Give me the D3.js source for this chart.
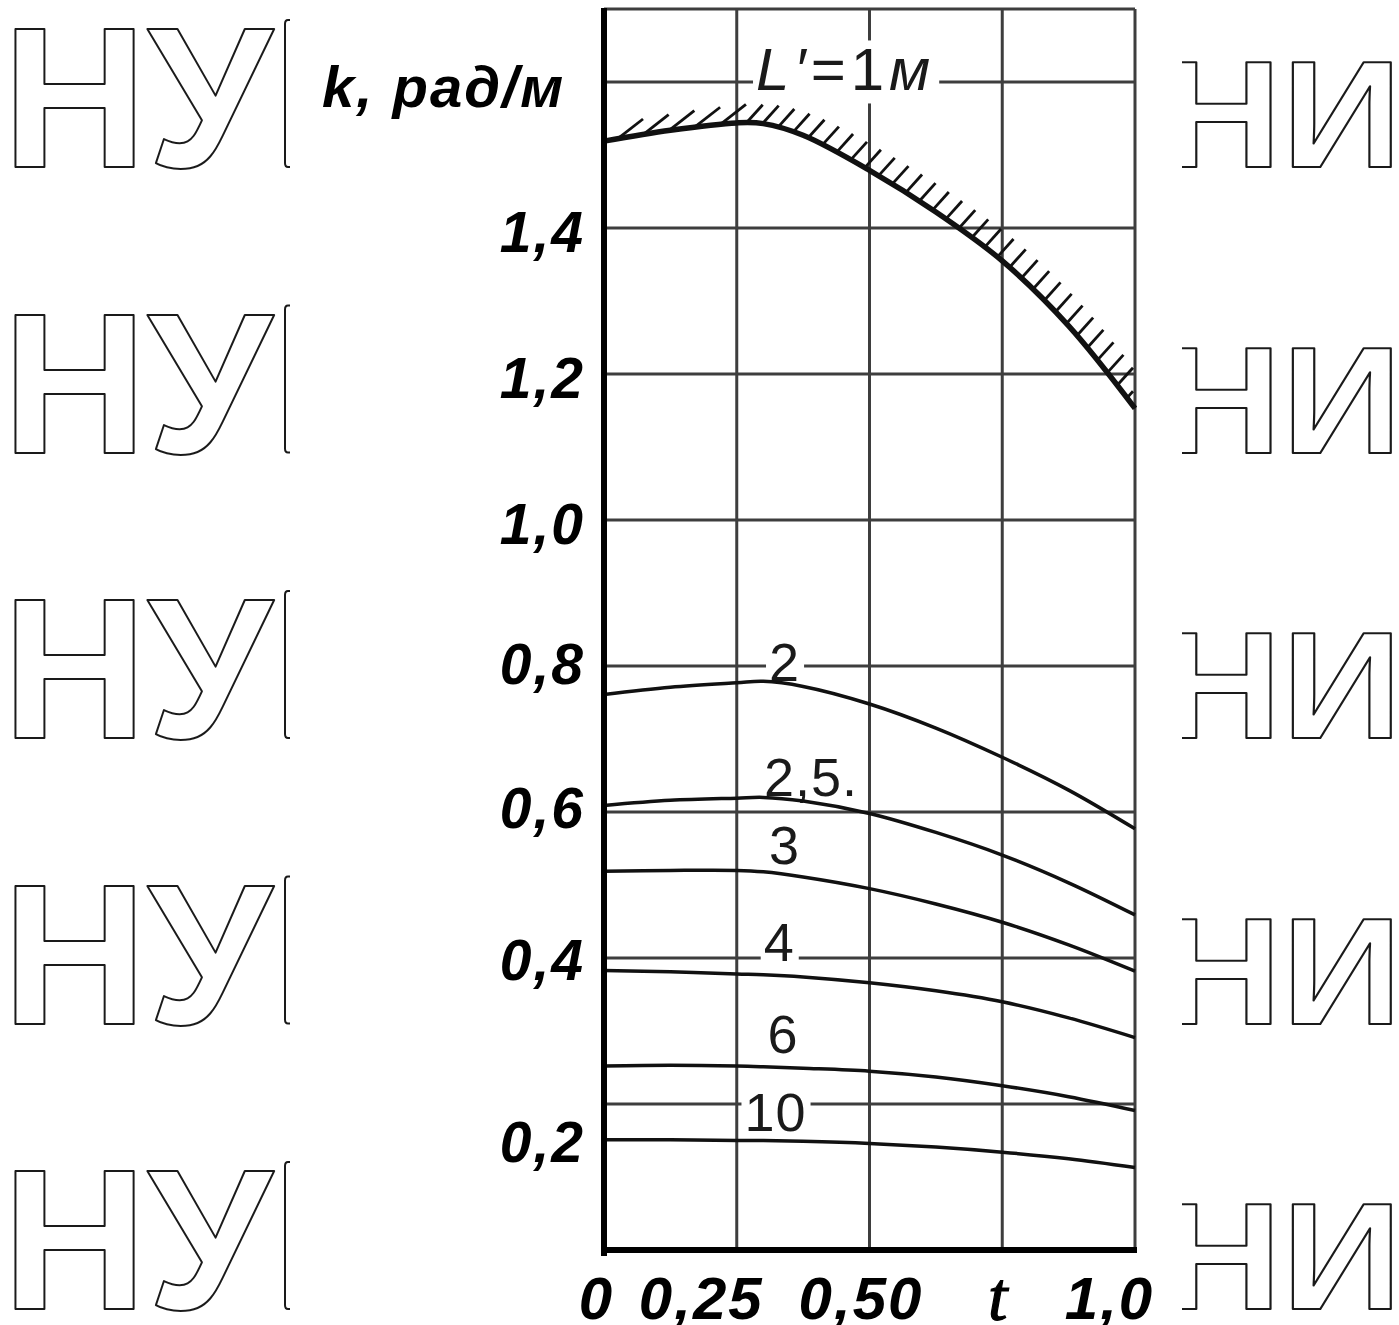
<!DOCTYPE html>
<html>
<head>
<meta charset="utf-8" />
<title>k(t) chart</title>
<script src="https://d3js.org/d3.v7.min.js"></script>
<style>
  body { margin: 0; background: #fff; }
  .tick text { font-family: "Liberation Sans", Arial, sans-serif; font-weight: bold; font-style: italic; fill: #000; }
  .curve-label { font-family: "Liberation Sans", Arial, sans-serif; fill: #1a1a1a; }
  .wm { font-family: "Liberation Sans", Arial, sans-serif; font-weight: bold; fill: #fff; stroke: #1a1a1a; stroke-width: 2; stroke-linejoin: round; }
</style>
</head>
<body>
<svg id="chart"></svg>
<script>
// ---- data ----
var tValues = [0, 0.125, 0.25, 0.3, 0.375, 0.5, 0.625, 0.75, 0.875, 1.0];
var kL1  = [1.519, 1.534, 1.544, 1.543, 1.527, 1.479, 1.422, 1.355, 1.266, 1.153];
var kL2  = [0.761, 0.771, 0.777, 0.779, 0.772, 0.748, 0.715, 0.675, 0.630, 0.577];
var kL25 = [0.609, 0.616, 0.619, 0.620, 0.615, 0.598, 0.572, 0.541, 0.503, 0.459];
var kL3  = [0.519, 0.520, 0.520, 0.518, 0.511, 0.495, 0.474, 0.449, 0.418, 0.382];
var kL4  = [0.383, 0.381, 0.378, 0.377, 0.374, 0.366, 0.355, 0.340, 0.318, 0.291];
var kL6  = [0.252, 0.253, 0.252, 0.251, 0.249, 0.245, 0.237, 0.225, 0.210, 0.191];
var kL10 = [0.151, 0.151, 0.150, 0.150, 0.149, 0.146, 0.141, 0.134, 0.125, 0.113];

var seriesNames = ["L′=1м", "2", "2,5.", "3", "4", "6", "10"];
var seriesValues = [kL1, kL2, kL25, kL3, kL4, kL6, kL10];

var xTicks = [0, 0.25, 0.5, 0.75, 1.0];
var xTickLabels = ["0", "0,25", "0,50", "t", "1,0"];
var yTicks = [0.2, 0.4, 0.6, 0.8, 1.0, 1.2, 1.4];
var yTickLabels = ["0,2", "0,4", "0,6", "0,8", "1,0", "1,2", "1,4"];
var yGrid = [0.2, 0.4, 0.6, 0.8, 1.0, 1.2, 1.4, 1.6, 1.7];
var yLabel = "k, рад/м";

// ---- layout ----
var width = 1399, height = 1325;
var svg = d3.select("#chart").attr("width", width).attr("height", height);

var x = d3.scaleLinear().domain([0, 1]).range([604, 1135]);
var y = d3.scaleLinear().domain([0, 1.6]).range([1250, 82]);
var yTop = 1.7;

// where each curve label sits, in data units [t, k]
var labelSpots = [[0.455, 1.618], [0.34, 0.806], [0.39, 0.648], [0.34, 0.556], [0.33, 0.422], [0.337, 0.296], [0.323, 0.19]];
var xLabelNudge = [-8, -36, -9, -4, -26];
var yLabelNudge = [36, 0, -6, -4, 2, 2, 2];

// ---- watermark rows (the chart sits in the gap between them) ----
var rows = d3.range(5);
var rowBase = function(d){ return 167 + d * 285.5; };
svg.selectAll(".wmL").data(rows).enter().append("text")
  .attr("class", "wm").attr("x", 2).attr("y", rowBase)
  .attr("font-size", 201).text("НУ");
// edge of the next, hidden letter
svg.selectAll(".wmStem").data(rows).enter().append("path")
  .attr("fill", "none").attr("stroke", "#1a1a1a").attr("stroke-width", 2)
  .attr("d", function(d){ var b = rowBase(d); return "M290 " + (b - 147) + "H288Q285 " + (b - 147) + " 285 " + (b - 143) + "V" + (b - 4) + "Q285 " + b + " 288 " + b + "H290"; });

svg.append("clipPath").attr("id", "rightClip")
  .append("rect").attr("x", 1182).attr("y", 0).attr("width", width - 1182).attr("height", height);
svg.append("g").attr("clip-path", "url(#rightClip)")
  .selectAll("text").data(rows).enter().append("text")
  .attr("class", "wm").attr("font-size", 152)
  .attr("transform", function(d){ return "translate(1161," + rowBase(d) + ") scale(1.1,1)"; })
  .attr("stroke-width", 1.8)
  .text("НИ");

// ---- grid ----
var grid = svg.append("g").attr("stroke", "#3e3e3e").attr("stroke-width", 3);
grid.selectAll(".gh").data(yGrid).enter().append("line")
  .attr("x1", x(0)).attr("x2", x(1))
  .attr("y1", function(d){ return y(d); }).attr("y2", function(d){ return y(d); });
grid.selectAll(".gv").data(xTicks.slice(1)).enter().append("line")
  .attr("x1", function(d){ return x(d); }).attr("x2", function(d){ return x(d); })
  .attr("y1", y(0)).attr("y2", y(yTop));

// ---- curve labels, with white backgrounds that break the grid ----
var labels = svg.append("g");
var labelNodes = labels.selectAll("text").data(seriesNames).enter().append("text")
  .attr("class", "curve-label")
  .attr("text-anchor", "middle")
  .attr("x", function(d, i){ return x(labelSpots[i][0]); })
  .attr("y", function(d, i){ return y(labelSpots[i][1]); })
  .attr("dy", "0.36em")
  .attr("font-size", function(d, i){ return i === 0 ? 60 : 54; })
  .attr("letter-spacing", function(d, i){ return i === 0 ? 5 : 1; })
  .each(function(d, i){
    var t = d3.select(this);
    if (i === 0) {
      t.append("tspan").attr("font-style", "italic").text("L′");
      t.append("tspan").text("=1");
      t.append("tspan").attr("font-style", "italic").text("м");
    } else {
      t.text(d);
    }
  });
labelNodes.each(function(){
  var b = this.getBBox();
  labels.insert("rect", "text")
    .attr("x", b.x - 3).attr("y", b.y + 4)
    .attr("width", b.width + 7).attr("height", b.height - 4)
    .attr("fill", "#fff");
});

// ---- curves ----
var line = d3.line()
  .x(function(d, i){ return x(tValues[i]); })
  .y(function(d){ return y(d); })
  .curve(d3.curveCatmullRom.alpha(0.5));

var curves = svg.append("g").attr("fill", "none").attr("stroke", "#111");
curves.selectAll("path").data(seriesValues).enter().append("path")
  .attr("d", line)
  .attr("stroke-width", function(d, i){ return i === 0 ? 5.5 : 3.5; });

// hatching above the L=1 curve
var topPath = curves.select("path").node();
var total = topPath.getTotalLength();
var hatch = svg.append("g").attr("stroke", "#111").attr("stroke-width", 2.8);
var s = 14;
while (s < total - 4) {
  var p = topPath.getPointAtLength(s);
  var left = p.x < x(0.25);
  var ang = (left ? 38 : 48) * Math.PI / 180;
  var len = left ? 32 : 24;
  var x2 = Math.min(p.x + len * Math.cos(ang), x(1) - 2);
  hatch.append("line")
    .attr("x1", p.x).attr("y1", p.y)
    .attr("x2", x2)
    .attr("y2", p.y - (x2 - p.x) * Math.tan(ang));
  s += left ? 26 : 16;
}

// ---- axes ----
var yAxis = d3.axisLeft(y).tickValues(yTicks).tickSize(0).tickPadding(19)
  .tickFormat(function(d, i){ return yTickLabels[i]; });
var gy = svg.append("g").attr("transform", "translate(" + x(0) + ",0)").call(yAxis);
gy.select(".domain").remove();
gy.selectAll(".tick text").attr("font-size", 57).attr("letter-spacing", 2)
  .attr("dy", function(d, i){ return (yLabelNudge[i] + 21) + "px"; });

var xAxis = d3.axisBottom(x).tickValues(xTicks).tickSize(0).tickPadding(26)
  .tickFormat(function(d, i){ return xTickLabels[i]; });
var gx = svg.append("g").attr("transform", "translate(0," + y(0) + ")").call(xAxis);
gx.select(".domain").remove();
gx.selectAll(".tick text").attr("font-size", 60).attr("letter-spacing", 2)
  .attr("dx", function(d, i){ return xLabelNudge[i]; })
  .filter(function(d, i){ return xTickLabels[i] === "t"; })
  .style("font-family", "'Liberation Serif', serif").style("font-weight", "normal")
  .attr("stroke", "#000").attr("stroke-width", 1.2)
  .attr("font-size", 70).attr("dy", "0.63em");

// thick axis lines
svg.append("line").attr("x1", x(0)).attr("x2", x(0)).attr("y1", y(yTop) - 1).attr("y2", y(0) + 6)
  .attr("stroke", "#000").attr("stroke-width", 6);
svg.append("line").attr("x1", x(0) - 3).attr("x2", x(1) + 2).attr("y1", y(0)).attr("y2", y(0))
  .attr("stroke", "#000").attr("stroke-width", 6);

// axis title
svg.append("text").attr("x", 322).attr("y", y(1.6) + 25)
  .attr("font-family", "'Liberation Sans', Arial, sans-serif").attr("font-weight", "bold").attr("font-style", "italic")
  .attr("font-size", 58).attr("letter-spacing", 2).text(yLabel);
</script>
</body>
</html>
